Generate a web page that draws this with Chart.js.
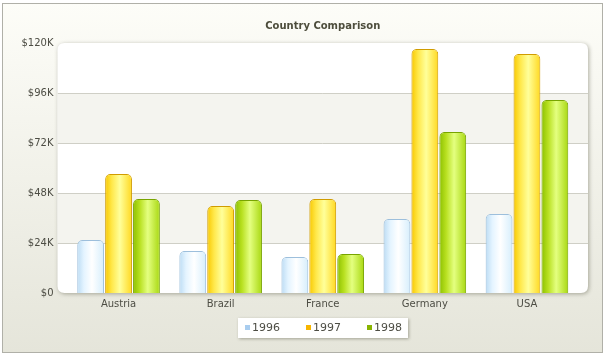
<!DOCTYPE html>
<html>
<head>
<meta charset="utf-8">
<script src="https://cdn.jsdelivr.net/npm/chart.js@4"></script>
<style>
html,body{margin:0;padding:0;background:#fff;}
#wrap{width:606px;height:356px;position:relative;}
</style>
</head>
<body>
<div id="wrap"><canvas id="c" width="606" height="356"></canvas></div>
<script>
const chartTitle = "Country Comparison";
const categories = ["Austria", "Brazil", "France", "Germany", "USA"];
const seriesNames = ["1996", "1997", "1998"];
const values1996 = [25400, 20200, 17300, 35500, 37900];
const values1997 = [57100, 41800, 45100, 117100, 114700];
const values1998 = [45100, 44600, 18700, 77300, 92600];
const yTicks = [0, 24000, 48000, 72000, 96000, 120000];
const tickLabels = ["$0", "$24K", "$48K", "$72K", "$96K", "$120K"];

const CAT_PCT = 0.82, BAR_PCT = 0.96;
const palettes = [
  {border: "#9dbfdc", stops: ["#bcdcf4", "#e4f4ff", "#ffffff", "#d6eefc"], legend: "#a9cdef"},
  {border: "#d09c00", stops: ["#f8c800", "#ffe84a", "#ffff9a", "#ffd820"], legend: "#f7b500"},
  {border: "#78a400", stops: ["#8cc000", "#b8e020", "#e4ff80", "#a8d810"], legend: "#88b400"}
];

function barFill(ctx, di) {
  const chart = ctx.chart;
  const xs = chart.scales.x;
  const s = palettes[di].stops;
  if (!xs || typeof ctx.dataIndex !== "number") return s[1];
  const catW = xs.width / categories.length;
  const pitch = catW * CAT_PCT / seriesNames.length;
  const w = pitch * BAR_PCT;
  const cx = xs.getPixelForValue(ctx.dataIndex) + (di - (seriesNames.length - 1) / 2) * pitch;
  if (!isFinite(cx) || !isFinite(w) || w <= 0) return s[1];
  const g = chart.ctx.createLinearGradient(cx - w / 2, 0, cx + w / 2, 0);
  g.addColorStop(0, s[0]);
  g.addColorStop(0.25, s[1]);
  g.addColorStop(0.55, s[2]);
  g.addColorStop(1, s[3]);
  return g;
}

function roundRect(c, x, y, w, h, r) {
  c.beginPath();
  c.moveTo(x + r, y);
  c.lineTo(x + w - r, y);
  c.quadraticCurveTo(x + w, y, x + w, y + r);
  c.lineTo(x + w, y + h - r);
  c.quadraticCurveTo(x + w, y + h, x + w - r, y + h);
  c.lineTo(x + r, y + h);
  c.quadraticCurveTo(x, y + h, x, y + h - r);
  c.lineTo(x, y + r);
  c.quadraticCurveTo(x, y, x + r, y);
  c.closePath();
}

const PAD = 10;
const decor = {
  id: "decor",
  beforeDraw(chart) {
    const c = chart.ctx, a = chart.chartArea, ys = chart.scales.y;
    c.save();
    c.fillStyle = "#ffffff";
    c.fillRect(0, 0, chart.width, chart.height);
    const g = c.createLinearGradient(0, 3, 0, 352);
    g.addColorStop(0, "#fdfdf8");
    g.addColorStop(1, "#e5e5da");
    c.fillStyle = g;
    c.fillRect(2, 3, 601, 350);
    c.strokeStyle = "#b0b0a8";
    c.lineWidth = 1;
    c.strokeRect(2.5, 3.5, 600, 349);
    c.fillStyle = "#4d4d3c";
    c.font = "bold 10px 'DejaVu Sans'";
    c.textAlign = "center";
    c.textBaseline = "middle";
    c.fillText(chartTitle, (a.left - PAD + a.right + PAD) / 2, 26);
    const px = a.left - PAD, pw = a.right - a.left + 2 * PAD;
    c.save();
    c.shadowColor = "rgba(80,80,60,0.45)";
    c.shadowBlur = 4;
    c.shadowOffsetX = 1;
    c.shadowOffsetY = 1;
    roundRect(c, px, a.top, pw, a.bottom - a.top, 7);
    c.fillStyle = "#ffffff";
    c.fill();
    c.restore();
    c.save();
    roundRect(c, px, a.top, pw, a.bottom - a.top, 7);
    c.clip();
    for (let i = 0; i < yTicks.length - 1; i++) {
      if (i % 2 === 1) {
        const y1 = ys.getPixelForValue(yTicks[i]);
        const y2 = ys.getPixelForValue(yTicks[i + 1]);
        c.fillStyle = "#f4f4ef";
        c.fillRect(px, y2, pw, y1 - y2);
      }
    }
    c.strokeStyle = "#cfcfc6";
    c.lineWidth = 1;
    for (let i = 1; i < yTicks.length - 1; i++) {
      const y = Math.round(ys.getPixelForValue(yTicks[i])) + 0.5;
      c.beginPath();
      c.moveTo(px, y);
      c.lineTo(px + pw, y);
      c.stroke();
    }
    c.restore();
    c.save();
    c.shadowColor = "rgba(80,80,60,0.45)";
    c.shadowBlur = 3;
    c.shadowOffsetX = 1;
    c.shadowOffsetY = 1;
    c.fillStyle = "#ffffff";
    c.fillRect(238, 318, 170, 20);
    c.restore();
    c.font = "11px 'DejaVu Sans'";
    c.textAlign = "left";
    c.textBaseline = "middle";
    seriesNames.forEach((n, i) => {
      const lx = 245 + i * 61;
      c.fillStyle = palettes[i].legend;
      c.fillRect(lx, 325, 5, 5);
      c.fillStyle = "#4d4d44";
      c.fillText(n, lx + 7, 328.5);
    });
    c.restore();
  }
};

const seriesValues = [values1996, values1997, values1998];
new Chart(document.getElementById("c"), {
  type: "bar",
  data: {
    labels: categories,
    datasets: seriesNames.map((n, i) => ({
      label: n,
      data: seriesValues[i],
      backgroundColor: (ctx) => barFill(ctx, i),
      borderColor: palettes[i].border,
      borderWidth: 1,
      borderSkipped: "bottom",
      borderRadius: {topLeft: 5, topRight: 5, bottomLeft: 0, bottomRight: 0},
      categoryPercentage: CAT_PCT,
      barPercentage: BAR_PCT
    }))
  },
  options: {
    responsive: false,
    animation: false,
    devicePixelRatio: 1,
    layout: {padding: {top: 43, right: 28, bottom: 0, left: 0}},
    plugins: {legend: {display: false}, title: {display: false}, tooltip: {enabled: false}},
    scales: {
      x: {
        offset: true,
        grid: {display: false, drawTicks: false},
        border: {display: false},
        ticks: {color: "#4d4d44", font: {family: "DejaVu Sans", size: 10}, padding: 5, maxRotation: 0},
        afterFit(s) { s.height = 63; }
      },
      y: {
        min: 0, max: 120000,
        grid: {display: false, drawTicks: false},
        border: {display: false},
        afterBuildTicks(s) { s.ticks = yTicks.map(v => ({value: v})); },
        ticks: {
          color: "#4d4d44",
          font: {family: "DejaVu Sans", size: 10},
          padding: 14,
          callback: (v) => tickLabels[yTicks.indexOf(v)]
        },
        afterFit(s) { s.width = 67.5; }
      }
    }
  },
  plugins: [decor]
});
</script>
</body>
</html>
